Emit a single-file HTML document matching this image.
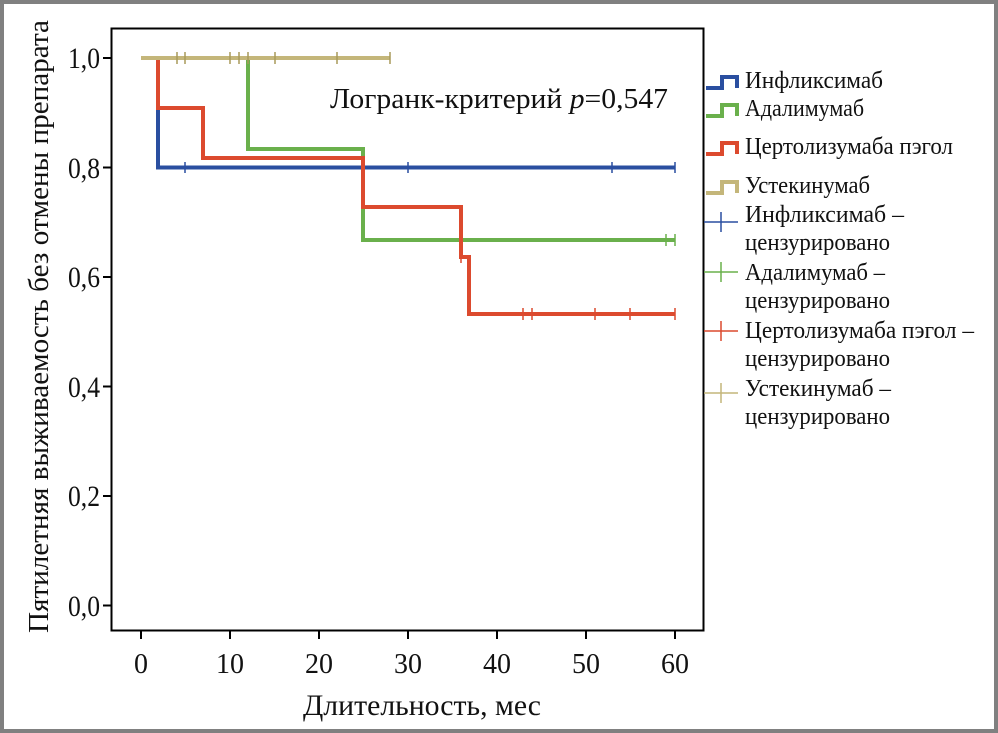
<!DOCTYPE html>
<html><head><meta charset="utf-8"><style>
html,body{margin:0;padding:0;background:#fff}
svg{display:block}
text{font-family:"Liberation Serif",serif;fill:#111}
</style></head><body>
<svg width="998" height="733" viewBox="0 0 998 733" xmlns="http://www.w3.org/2000/svg">
<rect x="0" y="0" width="998" height="733" fill="#808080"/>
<rect x="4" y="4" width="990" height="725" fill="#fff"/>
<!-- plot box -->
<rect x="111.5" y="28.5" width="592" height="602" fill="none" stroke="#000" stroke-width="2"/>
<!-- y ticks -->
<g stroke="#000" stroke-width="2">
<line x1="103" y1="58" x2="111" y2="58"/><line x1="103" y1="167.5" x2="111" y2="167.5"/><line x1="103" y1="277" x2="111" y2="277"/><line x1="103" y1="386.5" x2="111" y2="386.5"/><line x1="103" y1="496" x2="111" y2="496"/><line x1="103" y1="605.5" x2="111" y2="605.5"/>
<line x1="141" y1="631" x2="141" y2="639"/><line x1="230" y1="631" x2="230" y2="639"/><line x1="319" y1="631" x2="319" y2="639"/><line x1="408" y1="631" x2="408" y2="639"/><line x1="497" y1="631" x2="497" y2="639"/><line x1="586" y1="631" x2="586" y2="639"/><line x1="675" y1="631" x2="675" y2="639"/>
</g>
<g font-size="30" text-anchor="end">
<text x="100" y="68" textLength="32" lengthAdjust="spacingAndGlyphs">1,0</text>
<text x="100" y="178" textLength="32" lengthAdjust="spacingAndGlyphs">0,8</text>
<text x="100" y="287" textLength="32" lengthAdjust="spacingAndGlyphs">0,6</text>
<text x="100" y="397" textLength="32" lengthAdjust="spacingAndGlyphs">0,4</text>
<text x="100" y="506" textLength="32" lengthAdjust="spacingAndGlyphs">0,2</text>
<text x="100" y="616" textLength="32" lengthAdjust="spacingAndGlyphs">0,0</text>
</g>
<g font-size="28" text-anchor="middle">
<text x="141" y="673">0</text><text x="230" y="673">10</text><text x="319" y="673">20</text><text x="408" y="673">30</text><text x="497" y="673">40</text><text x="586" y="673">50</text><text x="675" y="673">60</text>
</g>
<text x="303" y="715" font-size="30" textLength="238" lengthAdjust="spacingAndGlyphs">Длительность, мес</text>
<text transform="translate(48,633) rotate(-90)" font-size="29" textLength="613" lengthAdjust="spacingAndGlyphs">Пятилетняя выживаемость без отмены препарата</text>
<text x="330" y="108" font-size="28" textLength="338" lengthAdjust="spacingAndGlyphs">Логранк-критерий <tspan font-style="italic">p</tspan>=0,547</text>
<!-- curves -->
<g fill="none" stroke-width="4">
<path d="M141 58H158V167.5H675" stroke="#2a4fa0"/>
<path d="M141 58H248V149H363V240H675" stroke="#6ab04c"/>
<path d="M141 58H158V108H203V158H363V207H461V257H469V314H675" stroke="#dc4a2e"/>
<path d="M141 58H390" stroke="#c4b67a"/>
</g>
<g stroke-width="1.5" fill="none">
<path d="M185 162v11M408 162v11M612 162v11M675 162v11" stroke="#2a4fa0"/>
<path d="M666 234v12M675 234v12" stroke="#6ab04c"/>
<path d="M461 251v12M523 308v12M532 308v12M595 308v12M630 308v12M675 308v12" stroke="#dc4a2e"/>
<path d="M177 52v12M185 52v12M230 52v12M239 52v12M248 52v12M275 52v12M337 52v12M390 52v12" stroke="#a89a5a"/>
</g>
<!-- legend -->
<g fill="none" stroke-width="4">
<path d="M706 88H722V77H737V88" stroke="#2a4fa0"/>
<path d="M706 116H722V105H737V116" stroke="#6ab04c"/>
<path d="M706 154H722V143H737V154" stroke="#dc4a2e"/>
<path d="M706 193H722V182H737V193" stroke="#c4b67a"/>
</g>
<g stroke-width="1.5">
<path d="M704 222H738M721 212V232" stroke="#2a4fa0"/>
<path d="M704 272H738M721 262V282" stroke="#6ab04c"/>
<path d="M704 331H738M721 321V341" stroke="#dc4a2e"/>
<path d="M704 393H738M721 383V403" stroke="#c4b67a"/>
</g>
<g font-size="24">
<text x="745" y="88" textLength="138" lengthAdjust="spacingAndGlyphs">Инфликсимаб</text>
<text x="745" y="116" textLength="119" lengthAdjust="spacingAndGlyphs">Адалимумаб</text>
<text x="745" y="154" textLength="208" lengthAdjust="spacingAndGlyphs">Цертолизумаба пэгол</text>
<text x="745" y="193" textLength="125" lengthAdjust="spacingAndGlyphs">Устекинумаб</text>
<text x="745" y="222" textLength="159" lengthAdjust="spacingAndGlyphs">Инфликсимаб –</text>
<text x="745" y="250" textLength="145" lengthAdjust="spacingAndGlyphs">цензурировано</text>
<text x="745" y="280" textLength="140" lengthAdjust="spacingAndGlyphs">Адалимумаб –</text>
<text x="745" y="308" textLength="145" lengthAdjust="spacingAndGlyphs">цензурировано</text>
<text x="745" y="338" textLength="229" lengthAdjust="spacingAndGlyphs">Цертолизумаба пэгол –</text>
<text x="745" y="366" textLength="145" lengthAdjust="spacingAndGlyphs">цензурировано</text>
<text x="745" y="396" textLength="146" lengthAdjust="spacingAndGlyphs">Устекинумаб –</text>
<text x="745" y="424" textLength="145" lengthAdjust="spacingAndGlyphs">цензурировано</text>
</g>
</svg>
</body></html>
